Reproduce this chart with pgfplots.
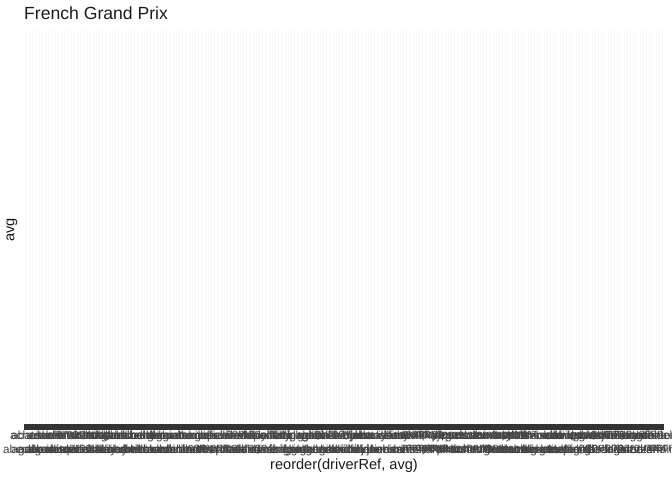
\documentclass[border=0pt]{standalone}
\usepackage{fontspec}
\setmainfont{Liberation Sans}
\usepackage{pgfplots}
\pgfplotsset{compat=1.18}
\definecolor{bandc}{HTML}{333333}
\definecolor{tickc}{HTML}{444444}
\definecolor{titc}{HTML}{1A1A1A}
\definecolor{gridc}{HTML}{F9F9F9}
\newcommand{\lo}[1]{\raisebox{-14bp}[\height][\depth]{#1}}
\begin{document}
\begin{tikzpicture}
\useasboundingbox (0,0) rectangle (672bp,480bp);
\begin{axis}[
  at={(24bp,50bp)}, anchor=south west,
  scale only axis, width=640bp, height=400bp,
  xmin=0.4, xmax=200.6, ymin=-0.25, ymax=100,
  axis line style={draw=none},
  major tick length=0pt,
  ytick=\empty,
  xtick={1,...,200},
  xmajorgrids, major grid style={color=gridc, line width=0.3pt},
  xticklabel style={font=\fontsize{11.7bp}{13bp}\selectfont, text=tickc, inner sep=1bp},
  xticklabels={abate,\lo{abecassis},acheson,\lo{adams},ader,\lo{agabashian},aitken,\lo{alboreto},alesi,\lo{alguersuari},alliot,\lo{allison},alonso,\lo{amati},amon,\lo{anderson},andretti,\lo{apicella},armstrong,\lo{arnoux},arundell,\lo{ascari},ashdown,\lo{ashley},attwood,\lo{badoer},baghetti,\lo{bailey},baldi,\lo{bandini},barbazza,\lo{barber},barrichello,\lo{bartels},beauman,\lo{behra},bellof,\lo{beltoise},berger,\lo{bernard},bertaggia,\lo{bianchi},bira,\lo{blundell},boesel,\lo{bondurant},bonetto,\lo{bonnier},boutsen,\lo{brabham},brambilla,\lo{brundle},bucci,\lo{bueb},burgess,\lo{button},caffi,\lo{campos},capelli,\lo{cecotto},cesaris,\lo{chapman},cheever,\lo{chiesa},chiron,\lo{claes},clark,\lo{collins},comas,\lo{courage},crawford,\lo{dalmas},daly,\lo{danner},depailler,\lo{diniz},donnelly,\lo{dumfries},elford,\lo{ertl},fabi,\lo{fangio},farina,\lo{fisichella},fittipaldi,\lo{foitek},follmer,\lo{frentzen},gachot,\lo{gendebien},gethin,\lo{giacomelli},ginther,\lo{gonzalez},grouillard,\lo{gugelmin},gurney,\lo{hailwood},hakkinen,\lo{hamilton},hawthorn,\lo{heidfeld},herbert,\lo{hill},hulme,\lo{hunt},ickx,\lo{irvine},jabouille,\lo{jarier},johansson,\lo{jones},katayama,\lo{kubica},laffite,\lo{lammers},lamy,\lo{larini},lauda,\lo{lehto},leoni,\lo{mansell},mass,\lo{massa},montoya,\lo{moreno},moss,\lo{musso},nakajima,\lo{nannini},patrese,\lo{peterson},piquet,\lo{pironi},prost,\lo{raikkonen},regazzoni,\lo{reutemann},rindt,\lo{rosberg},salo,\lo{scheckter},schumacher,\lo{senna},stewart,\lo{surtees},tambay,\lo{trulli},verstappen,\lo{villeneuve},warwick,\lo{watson},webber,\lo{zanardi},zonta,\lo{zunino},wurz,\lo{wendlinger},andersson,\lo{baumgartner},belmondo,\lo{beretta},bernoldi,\lo{bleekemolen},brack,\lo{brise},bruni,\lo{burti},chaves,\lo{coulthard},davidson,\lo{depalma},doornbos,\lo{fagioli},ferran,\lo{fontes},gartner,\lo{gene},ghinzani,\lo{glock},grosjean,\lo{gounon},guerra,\lo{hesnault},inoue,\lo{klien},kovalainen,\lo{lagorce},lavaggi,\lo{liuzzi},magnussen,\lo{marques},martini,\lo{merzario},modena,\lo{montermini},morbidelli,\lo{nasr},nilsson,\lo{ocon},pace,\lo{palmer},panis,\lo{pescarolo},pizzonia,\lo{pryce},rosset,\lo{sala}},
]
\addplot[ybar, bar width=0.96, fill=bandc, draw=bandc, line width=0.3pt] coordinates {
(1,1.25) (2,1.25) (3,1.25) (4,1.25) (5,1.25) (6,1.25) (7,1.25) (8,1.25) (9,1.25) (10,1.25)
(11,1.25) (12,1.25) (13,1.25) (14,1.25) (15,1.25) (16,1.25) (17,1.25) (18,1.25) (19,1.25) (20,1.25)
(21,1.25) (22,1.25) (23,1.25) (24,1.25) (25,1.25) (26,1.25) (27,1.25) (28,1.25) (29,1.25) (30,1.25)
(31,1.25) (32,1.25) (33,1.25) (34,1.25) (35,1.25) (36,1.25) (37,1.25) (38,1.25) (39,1.25) (40,1.25)
(41,1.25) (42,1.25) (43,1.25) (44,1.25) (45,1.25) (46,1.25) (47,1.25) (48,1.25) (49,1.25) (50,1.25)
(51,1.25) (52,1.25) (53,1.25) (54,1.25) (55,1.25) (56,1.25) (57,1.25) (58,1.25) (59,1.25) (60,1.25)
(61,1.25) (62,1.25) (63,1.25) (64,1.25) (65,1.25) (66,1.25) (67,1.25) (68,1.25) (69,1.25) (70,1.25)
(71,1.25) (72,1.25) (73,1.25) (74,1.25) (75,1.25) (76,1.25) (77,1.25) (78,1.25) (79,1.25) (80,1.25)
(81,1.25) (82,1.25) (83,1.25) (84,1.25) (85,1.25) (86,1.25) (87,1.25) (88,1.25) (89,1.25) (90,1.25)
(91,1.25) (92,1.25) (93,1.25) (94,1.25) (95,1.25) (96,1.25) (97,1.25) (98,1.25) (99,1.25) (100,1.25)
(101,1.25) (102,1.25) (103,1.25) (104,1.25) (105,1.25) (106,1.25) (107,1.25) (108,1.25) (109,1.25) (110,1.25)
(111,1.25) (112,1.25) (113,1.25) (114,1.25) (115,1.25) (116,1.25) (117,1.25) (118,1.25) (119,1.25) (120,1.25)
(121,1.25) (122,1.25) (123,1.25) (124,1.25) (125,1.25) (126,1.25) (127,1.25) (128,1.25) (129,1.25) (130,1.25)
(131,1.25) (132,1.25) (133,1.25) (134,1.25) (135,1.25) (136,1.25) (137,1.25) (138,1.25) (139,1.25) (140,1.25)
(141,1.25) (142,1.25) (143,1.25) (144,1.25) (145,1.25) (146,1.25) (147,1.25) (148,1.25) (149,1.25) (150,1.25)
(151,1.25) (152,1.25) (153,1.25) (154,1.25) (155,1.25) (156,1.25) (157,1.25) (158,1.25) (159,1.25) (160,1.25)
(161,1.25) (162,1.25) (163,1.25) (164,1.25) (165,1.25) (166,1.25) (167,1.25) (168,1.25) (169,1.25) (170,1.25)
(171,1.25) (172,1.25) (173,1.25) (174,1.25) (175,1.25) (176,1.25) (177,1.25) (178,1.25) (179,1.25) (180,1.25)
(181,1.25) (182,1.25) (183,1.25) (184,1.25) (185,1.25) (186,1.25) (187,1.25) (188,1.25) (189,1.25) (190,1.25)
(191,1.25) (192,1.25) (193,1.25) (194,1.25) (195,1.25) (196,1.25) (197,1.25) (198,1.25) (199,1.25) (200,1.25)
};
\end{axis}
\node[anchor=base west, text=titc, font=\fontsize{17.6bp}{20bp}\selectfont, inner sep=0pt] at (24bp,460bp) {French Grand Prix};
\node[rotate=90, text=titc, font=\fontsize{14.6bp}{16bp}\selectfont, inner sep=0pt] at (12bp,250bp) {avg};
\node[text=titc, font=\fontsize{14.6bp}{16bp}\selectfont, inner sep=0pt] at (344bp,14bp) {reorder(driverRef, avg)};
\end{tikzpicture}
\end{document}
